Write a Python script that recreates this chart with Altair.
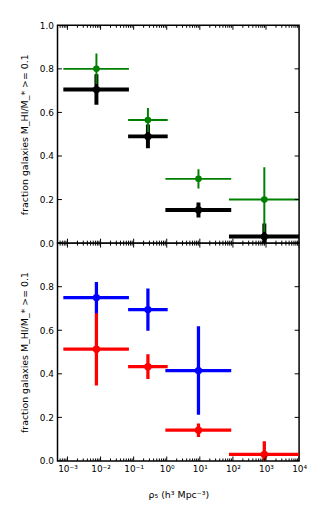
import altair as alt
import pandas as pd

# bins in density rho_5 (h^3 Mpc^-3)
bin_lo = [7.5e-4, 0.068, 0.91, 76.0]
bin_hi = [0.072, 1.07, 89.0, 1.0e4]
bin_x = [0.0075, 0.27, 9.1, 890.0]

# top panel
green_y = [0.80, 0.565, 0.295, 0.20]
green_err = [0.07, 0.055, 0.044, 0.148]
black_y = [0.705, 0.49, 0.152, 0.03]
black_err = [0.07, 0.055, 0.034, 0.06]

# bottom panel
blue_y = [0.75, 0.695, 0.415]
blue_err = [0.072, 0.097, 0.203]
red_y = [0.513, 0.433, 0.141, 0.03]
red_err = [0.167, 0.057, 0.031, 0.06]

x_major = [1e-3, 1e-2, 1e-1, 1e0, 1e1, 1e2, 1e3, 1e4]
x_labels = ["10⁻³", "10⁻²", "10⁻¹", "10⁰", "10¹", "10²", "10³", "10⁴"]
x_minor = [k * 10.0 ** d for d in range(-4, 4) for k in range(2, 10) if 5e-4 <= k * 10.0 ** d <= 1e4]
y_major = [0.0, 0.2, 0.4, 0.6, 0.8, 1.0]

W, H = 244, 220
FONT = "DejaVu Sans"
YTITLE = "fraction galaxies M_HI/M_* >= 0.1"
XTITLE = "ρ₅ (h³  Mpc⁻³)"

xs = alt.Scale(type="log", domain=[5e-4, 1e4], nice=False)
ys = alt.Scale(domain=[0, 1], nice=False, zero=False)


def series_df(yv, ev):
    n = len(yv)
    return pd.DataFrame({
        "lo": bin_lo[:n], "hi": bin_hi[:n], "x": bin_x[:n], "y": yv,
        "ylo": [a - b for a, b in zip(yv, ev)],
        "yhi": [a + b for a, b in zip(yv, ev)],
    })


def panel(series, show_x, ylabels):
    if show_x:
        xaxis = alt.Axis(values=x_major, title=XTITLE, ticks=False, domain=False, grid=False,
                         labelExpr="[" + ",".join("'%s'" % s for s in x_labels) + "][round(log(datum.value)/LN10)+3]",
                         labelPadding=4, titlePadding=16, labelFlush=False)
    else:
        xaxis = None
    yaxis = alt.Axis(values=ylabels, format=".1f", title=YTITLE, ticks=False, domain=False, grid=False,
                     labelPadding=4, titlePadding=10)
    X = lambda f: alt.X(f, type="quantitative", scale=xs, axis=xaxis)
    Y = lambda f: alt.Y(f, type="quantitative", scale=ys, axis=yaxis)
    layers = []
    for yv, ev, color, lw, size in series:
        df = series_df(yv, ev)
        base = alt.Chart(df)
        layers.append(base.mark_rule(color=color, strokeWidth=lw, clip=True).encode(x=X("lo"), x2="hi", y=Y("y")))
        layers.append(base.mark_rule(color=color, strokeWidth=lw, clip=True).encode(x=X("x"), y=Y("ylo"), y2="yhi"))
        layers.append(base.mark_circle(color=color, size=size, opacity=1, clip=True).encode(x=X("x"), y=Y("y")))
    dmaj = pd.DataFrame({"x": x_major})
    dmin = pd.DataFrame({"x": x_minor})
    dy = pd.DataFrame({"y": y_major})
    tk = dict(color="black", strokeWidth=1, clip=True)
    layers += [
        alt.Chart(dmaj).mark_rule(**tk).encode(x=X("x"), y=alt.value(H), y2=alt.value(H - 4.5)),
        alt.Chart(dmaj).mark_rule(**tk).encode(x=X("x"), y=alt.value(0), y2=alt.value(4.5)),
        alt.Chart(dmin).mark_rule(**tk).encode(x=X("x"), y=alt.value(H), y2=alt.value(H - 2.5)),
        alt.Chart(dmin).mark_rule(**tk).encode(x=X("x"), y=alt.value(0), y2=alt.value(2.5)),
        alt.Chart(dy).mark_rule(**tk).encode(y=Y("y"), x=alt.value(0), x2=alt.value(4.5)),
        alt.Chart(dy).mark_rule(**tk).encode(y=Y("y"), x=alt.value(W), x2=alt.value(W - 4.5)),
    ]
    return alt.layer(*layers).properties(width=W, height=H)


top = panel([
    (black_y, black_err, "black", 4, 55),
    (green_y, green_err, "#008000", 2, 45),
], False, y_major)

bottom = panel([
    (red_y, red_err, "#ff0000", 3.3, 55),
    (blue_y, blue_err, "#0000ff", 3.3, 55),
], True, y_major[:-1])

chart = alt.vconcat(top, bottom, spacing=0, bounds="flush").properties(
    padding={"left": 10, "top": 10, "right": 0, "bottom": 0},
    background="white",
).configure_view(
    stroke="black", strokeWidth=1.5
).configure_axis(
    labelFont=FONT, titleFont=FONT, labelFontSize=9, titleFontSize=9.5,
    titleFontWeight="normal", labelColor="black", titleColor="black"
)

chart.save("out.html", embed_options={"renderer": "svg", "actions": False})
